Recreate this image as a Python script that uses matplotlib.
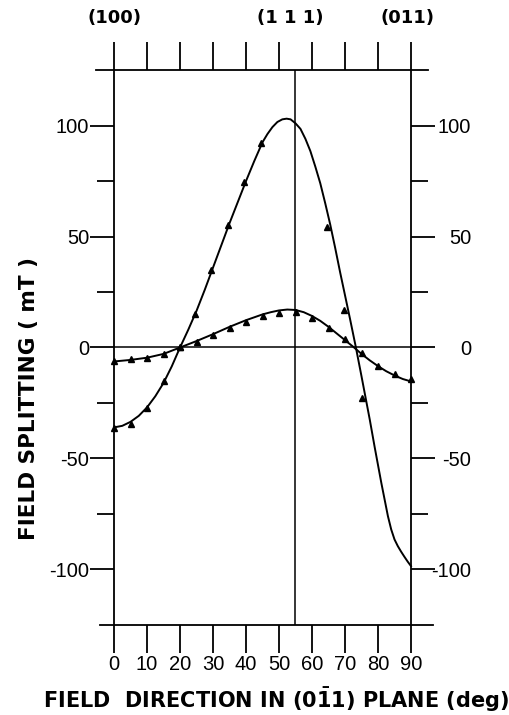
import matplotlib
matplotlib.use("Agg")
import matplotlib.pyplot as plt
import matplotlib.transforms as mtransforms

plt.rcParams['axes.unicode_minus'] = False
plt.rcParams['mathtext.fontset'] = 'dejavusans'

TICK_FONT = ['Liberation Sans', 'DejaVu Sans']
LABEL_FONT = ['DejaVu Sans']
TICK_SIZE = 14.5

# measured splittings (triangles)
angle_big = [0, 5, 10, 15, 20, 24.5, 29.5, 34.5, 39.5, 44.5, 64.5, 69.7, 75.2]
split_big = [-36.1, -34.3, -27.1, -15.3, 0, 15.0, 35.0, 55.2, 74.5, 92.0, 54.2, 16.9, -22.6]

angle_small = [0, 5, 10, 15, 20, 25, 30, 35, 40, 45, 50, 55, 60, 65, 70, 75, 80, 85, 90]
split_small = [-6.3, -5.4, -4.8, -3.0, 0, 2.3, 5.6, 9.0, 11.7, 14.4, 15.5, 15.8, 13.2,
               9.0, 3.8, -2.3, -8.3, -12.0, -14.1]

# calculated curves
curve_big_x = [0, 2.5, 5, 7.5, 10, 12.5, 15, 17.5, 20, 22.5, 25, 27.5, 30, 32.5, 35, 37.5,
               40, 42.5, 45, 46.5, 48, 49.5, 51, 52.3, 53.5, 55, 56.5, 58, 59.5, 61, 62.5,
               64, 65.5, 67, 68.5, 70, 71.5, 73.3, 75, 77.5, 79, 80, 81, 82, 83, 84, 85,
               86, 87, 88, 89, 90]
curve_big_y = [-36, -35.3, -33.5, -30.8, -27, -22, -16, -8.5, 0, 8, 16.5, 26, 36, 46, 56, 65.5,
               75, 84, 92.5, 96.2, 99.3, 101.6, 102.8, 103.1, 102.8, 101, 98.5, 94, 88.5,
               81.5, 74, 65, 55.5, 45, 34, 23.5, 13, 0, -13, -32.5, -45, -53, -61, -68.5,
               -76, -82, -86.5, -89.5, -92, -94.3, -96.5, -98.5]

curve_small_x = [0, 5, 10, 15, 20, 25, 30, 35, 40, 45, 47.5, 50, 52.5, 55, 57.5, 60, 62.5,
                 65, 67.5, 70, 72.5, 75, 77.5, 80, 82.5, 85, 87.5, 90]
curve_small_y = [-6.3, -5.6, -4.6, -2.9, 0, 2.9, 6.0, 9.3, 12.3, 14.9, 15.9, 16.7, 17.1,
                 16.9, 15.9, 14.2, 12.0, 9.3, 6.3, 3.3, 0.3, -2.9, -5.8, -8.4, -10.7,
                 -12.6, -14.2, -15.3]

x_ticks = [0, 10, 20, 30, 40, 50, 60, 70, 80, 90]
y_major = [-100, -50, 0, 50, 100]
y_minor = [-75, -25, 25, 75]
top_labels = ['(100)', '(1 1 1)', '(011)']
top_pos = [0, 53.5, 89]
magic_angle = 54.74

fig = plt.figure(figsize=(5.09, 7.15), dpi=100)
ax = fig.add_axes([0.224, 0.126, 0.5835, 0.776])
ax.set_xlim(0, 90)
ax.set_ylim(-125, 125)

lw = 1.3
for side in ['top', 'bottom']:
    ax.spines[side].set_visible(False)
for side in ['left', 'right']:
    ax.spines[side].set_linewidth(lw)

# frame lines running past the box
ax.axhline(125, xmin=-0.062, xmax=1.058, color='k', lw=lw, clip_on=False)
ax.axhline(-125, xmin=-0.047, xmax=1.075, color='k', lw=lw, clip_on=False)
ax.axhline(0, color='k', lw=1.1)
ax.axvline(magic_angle, color='k', lw=1.1)

ax.set_xticks(x_ticks)
ax.set_xticklabels([str(v) for v in x_ticks], family=TICK_FONT, fontsize=TICK_SIZE)
ax.tick_params(axis='x', which='major', direction='out', length=20, width=lw,
               top=True, bottom=True, pad=2)

ax.set_yticks(y_major)
ax.set_yticks(y_minor, minor=True)
ax.set_yticklabels([str(v) for v in y_major], family=TICK_FONT, fontsize=TICK_SIZE)
ax.tick_params(axis='y', which='major', direction='out', length=17, width=lw,
               left=True, right=True, labelleft=True, labelright=True, pad=1)
ax.tick_params(axis='y', which='minor', direction='out', length=12, width=lw,
               left=True, right=True)

# right labels: right-aligned about 60 px right of the spine
shift = mtransforms.ScaledTranslation(0.60, 0, fig.dpi_scale_trans)
for t in ax.yaxis.get_major_ticks():
    t.label2.set_horizontalalignment('right')
    t.label2.set_fontfamily(TICK_FONT)
    t.label2.set_fontsize(TICK_SIZE)
    t.label2.set_transform(ax.get_yaxis_transform(which='tick2') + shift)

# curves and data
ax.plot(curve_big_x, curve_big_y, color='k', lw=1.4, clip_on=False)
ax.plot(curve_small_x, curve_small_y, color='k', lw=1.4, clip_on=False)
ax.plot(angle_big, split_big, '^', color='k', ms=4.5, clip_on=False)
ax.plot(angle_small, split_small, '^', color='k', ms=4.5, clip_on=False)

trans = mtransforms.blended_transform_factory(ax.transData, ax.transAxes)
for lab, pos in zip(top_labels, top_pos):
    ax.text(pos, 1.094, lab, transform=trans, ha='center', va='center',
            fontsize=13, fontweight='bold', family=LABEL_FONT)

fig.text(0.057, 0.443, 'FIELD SPLITTING ( mT )', rotation=90, ha='center', va='center',
         fontsize=15.5, fontweight='bold', family=LABEL_FONT)
fig.text(0.542, 0.021, r'FIELD  DIRECTION IN (0$\mathbf{\bar{1}}$1) PLANE (deg)',
         ha='center', va='center', fontsize=15, fontweight='bold', family=LABEL_FONT)

fig.savefig('out.png', dpi=100)
